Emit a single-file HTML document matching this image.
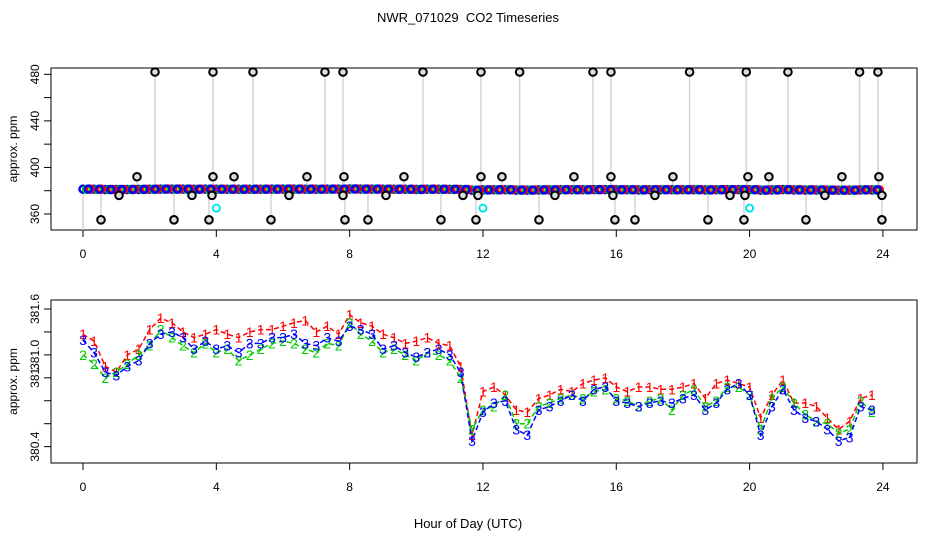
<!DOCTYPE html>
<html><head><meta charset="utf-8"><style>
body{margin:0;background:#fff}
svg{display:block;font-family:"Liberation Sans",sans-serif}
</style></head><body>
<svg id="c" width="936" height="540" viewBox="0 0 936 540">
<rect width="936" height="540" fill="#fff"/>
<text x="468" y="22" text-anchor="middle" font-size="13">NWR_071029 &#160;CO2 Timeseries</text>
<text x="468" y="528" text-anchor="middle" font-size="13">Hour of Day (UTC)</text>
<g id="topPanel"></g>
<g id="botPanel"></g>
</svg>
<script>
const hours=[0,0.33,0.67,1,1.33,1.67,2,2.33,2.67,3,3.33,3.67,4,4.33,4.67,5,5.33,5.67,6,6.33,6.67,7,7.33,7.67,8,8.33,8.67,9,9.33,9.67,10,10.33,10.67,11,11.33,11.67,12,12.33,12.67,13,13.33,13.67,14,14.33,14.67,15,15.33,15.67,16,16.33,16.67,17,17.33,17.67,18,18.33,18.67,19,19.33,19.67,20,20.33,20.67,21,21.33,21.67,22,22.33,22.67,23,23.33,23.67];
const series3=[381.33,381.22,381.05,381.02,381.1,381.15,381.3,381.38,381.4,381.35,381.25,381.32,381.25,381.28,381.22,381.3,381.3,381.35,381.35,381.38,381.3,381.28,381.35,381.32,381.45,381.42,381.38,381.25,381.28,381.22,381.18,381.22,381.25,381.2,381.05,380.45,380.7,380.78,380.8,380.55,380.5,380.72,380.75,380.8,380.85,380.8,380.9,380.92,380.8,380.78,380.75,380.78,380.8,380.78,380.82,380.85,380.72,380.78,380.9,380.95,380.85,380.5,380.75,380.9,380.72,380.65,380.62,380.55,380.45,380.48,380.75,380.72];
const series1=[381.38,381.32,381.1,381.05,381.2,381.25,381.42,381.52,381.48,381.4,381.35,381.38,381.42,381.38,381.35,381.4,381.42,381.42,381.45,381.48,381.5,381.4,381.45,381.38,381.55,381.48,381.45,381.38,381.35,381.3,381.32,381.35,381.3,381.28,381.1,380.5,380.88,380.92,380.85,380.72,380.7,380.82,380.85,380.9,380.88,380.95,380.98,381.0,380.92,380.88,380.92,380.92,380.9,380.9,380.92,380.95,380.82,380.95,380.98,380.95,380.92,380.65,380.85,380.98,380.78,380.78,380.75,380.65,380.55,380.62,380.82,380.85];
const series2=[381.2,381.12,381.0,381.05,381.12,381.2,381.28,381.42,381.35,381.28,381.22,381.3,381.22,381.25,381.15,381.2,381.25,381.3,381.32,381.3,381.25,381.22,381.3,381.28,381.48,381.38,381.32,381.22,381.25,381.2,381.15,381.22,381.2,381.15,381.0,380.55,380.72,380.75,380.85,380.6,380.6,380.75,380.78,380.82,380.85,380.82,380.88,380.9,380.82,380.8,380.75,380.8,380.82,380.72,380.85,380.9,380.75,380.8,380.92,380.92,380.85,380.55,380.82,380.92,380.78,380.68,380.62,380.6,380.52,380.55,380.8,380.7];
const outHours=[2.16,3.9,5.1,7.26,7.8,10.2,11.94,13.1,15.3,15.84,18.2,19.9,21.15,23.3,23.85,1.62,3.9,4.53,6.72,7.83,9.63,11.94,12.57,14.73,15.84,17.7,19.95,20.58,22.77,23.88,1.08,3.27,3.87,6.18,7.8,9.09,11.4,11.85,14.16,15.9,17.16,19.41,19.86,22.26,23.97,0.54,2.73,3.78,5.64,7.86,8.55,10.74,11.79,13.68,15.96,16.56,18.75,19.83,21.69,23.97];
const outValues=[482,482,482,482,482,482,482,482,482,482,482,482,482,482,482,392,392,392,392,392,392,392,392,392,392,392,392,392,392,392,376,376,376,376,376,376,376,376,376,376,376,376,376,376,376,355,355,355,355,355,355,355,355,355,355,355,355,355,355,355];
const cyanHours=[4.0,12.0,20.0];
const cyanValues=[365,365,365];
const xTicks=[0,4,8,12,16,20,24];
const topYTicks=[360,380,400,420,440,460,480];
const topYLabels=["360","","400","","440","","480"];
const botYTicks=[380.4,380.6,380.8,381.0,381.2,381.4,381.6];
const botYLabels=["380.4","","","381","381.0","","381.6"];

const NS="http://www.w3.org/2000/svg";
function mk(p,tag,at,txt){const e=document.createElementNS(NS,tag);for(const k in at)e.setAttribute(k,at[k]);if(txt!==undefined)e.textContent=txt;p.appendChild(e);return e;}
const X=h=>83+h*33.33;
const Yt=v=>214-(v-360)*1.164;
const Yb=v=>309+(381.6-v)*114.7;

function axes(g,y0,y1,yTicks,yLabels,Y,prefix){
  let r=mk(g,'rect',{x:51,y:y0,width:866,height:y1-y0,fill:'none',stroke:'#000','stroke-width':1});
  
  
  xTicks.forEach(t=>{
    let l=mk(g,'line',{x1:X(t),x2:X(t),y1:y1,y2:y1+7,stroke:'#000'});
    
    
    let tx=mk(g,'text',{x:X(t),y:y1+28,'text-anchor':'middle','font-size':12},String(t));
    
    
  });
  yTicks.forEach((t,i)=>{
    let y=Y(t);
    let l=mk(g,'line',{x1:44,x2:51,y1:y,y2:y,stroke:'#000'});
    
    
    if(yLabels[i]){
      let tx=mk(g,'text',{x:0,y:0,'text-anchor':'middle','font-size':12,transform:`translate(39,${y}) rotate(-90)`},yLabels[i]);
      
      
    }
  });
  let yt=mk(g,'text',{x:0,y:0,'text-anchor':'middle','font-size':12,transform:`translate(17,${(y0+y1)/2}) rotate(-90)`},'approx. ppm');
  
  
}

const topG=document.getElementById('topPanel');
axes(topG,68,230,topYTicks,topYLabels,Yt,'top');
outHours.forEach((h,i)=>{
  let l=mk(topG,'line',{x1:X(h),x2:X(h),y1:Yt(381),y2:Yt(outValues[i]),stroke:'#aaa','stroke-width':1.5,'stroke-dasharray':'1,1'});
  
  
});
let g0=mk(topG,'line',{x1:X(0),x2:X(0),y1:Yt(381),y2:230,stroke:'#aaa','stroke-width':1.5,'stroke-dasharray':'1,1'});


[[series3,'#0000ff',0],[series2,'#00cc00',0.11],[series1,'#ff0000',0.22],[series3,'#0000ff',0.16]].forEach(([s,c,off])=>{
  s.forEach((v,i)=>{
    let ci=mk(topG,'circle',{cx:X(hours[i]+off),cy:Yt(v),r:3.5,fill:'none',stroke:c,'stroke-width':2.5});
    
    
  });
});
outHours.forEach((h,i)=>{
  let ci=mk(topG,'circle',{cx:X(h),cy:Yt(outValues[i]),r:3.8,fill:'#ddd',stroke:'#000','stroke-width':2});
  
  
});
cyanHours.forEach((h,i)=>{
  let ci=mk(topG,'circle',{cx:X(h),cy:Yt(cyanValues[i]),r:3.5,fill:'none',stroke:'#00e5ee','stroke-width':2});
  
  
});

const botG=document.getElementById('botPanel');
axes(botG,300,463,botYTicks,botYLabels,Yb,'bottom');
[[series1,'#ff0000','1'],[series2,'#00cc00','2'],[series3,'#0000ff','3']].forEach(([s,c,lab])=>{
  const pts=s.map((v,i)=>X(hours[i])+','+Yb(v)).join(' ');
  let pl=mk(botG,'polyline',{points:pts,fill:'none',stroke:c,'stroke-width':1.5,'stroke-dasharray':'5,3'});
  
  
  s.forEach((v,i)=>{
    let t=mk(botG,'text',{x:X(hours[i]),y:Yb(v)+5,'text-anchor':'middle','font-size':14,fill:c},lab);
    
    
  });
});
</script>
</body></html>
